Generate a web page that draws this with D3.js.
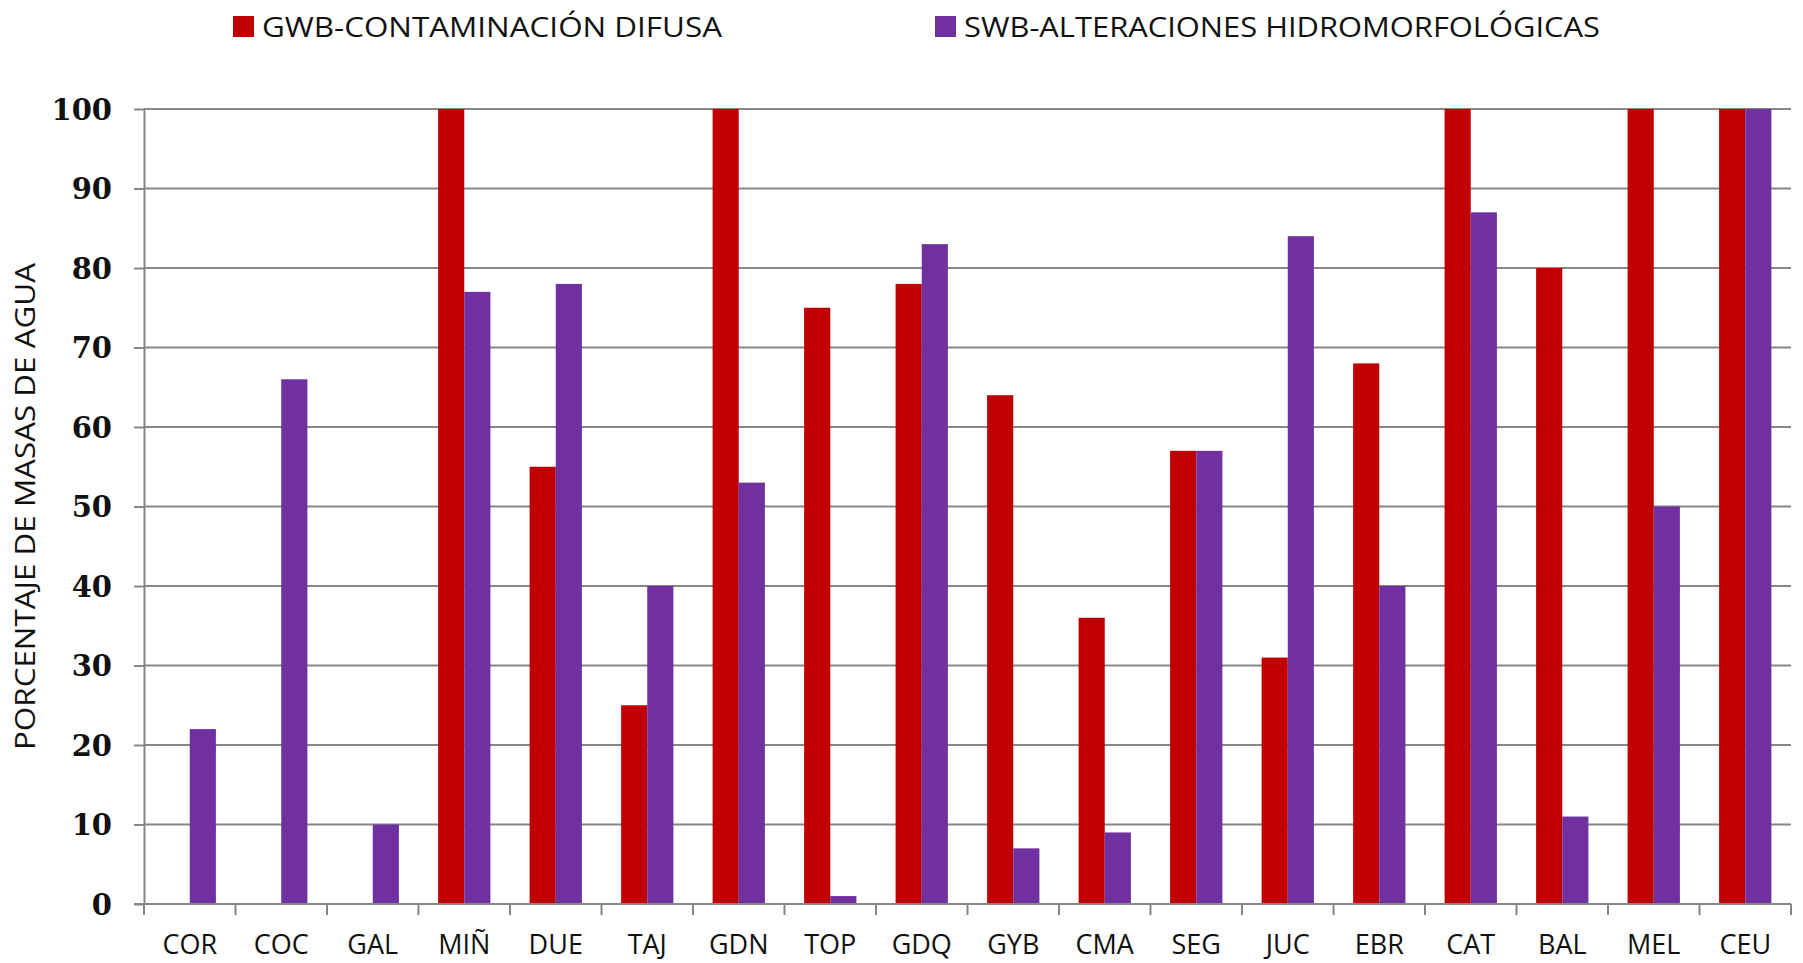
<!doctype html>
<html>
  <head>
    <meta charset="utf-8">
    <script src="https://cdnjs.cloudflare.com/ajax/libs/d3/7.8.5/d3.min.js"></script>
    <style>
      body { margin: 0; background: #fff; }
      line.grid { stroke: #878787; stroke-width: 2; }
      .axis path, .axis line { stroke: #878787; stroke-width: 2; }
      text.tick-y { font-family: "DejaVu Serif"; font-weight: bold; font-size: 29px; fill: #111; }
      text.label { font-family: "Open Sans"; font-size: 28px; fill: #111; }
      text.xlabel { font-family: "Open Sans"; font-size: 27px; fill: #111; }
    </style>
  </head>
  <body>
    <svg id="chart" width="1803" height="963"></svg>
    <script>
      var categories = ["COR", "COC", "GAL", "MIÑ", "DUE", "TAJ", "GDN", "TOP", "GDQ",
                        "GYB", "CMA", "SEG", "JUC", "EBR", "CAT", "BAL", "MEL", "CEU"];
      var gwbValues = [0, 0, 0, 100, 55, 25, 100, 75, 78, 64, 36, 57, 31, 68, 100, 80, 100, 100];
      var swbValues = [22, 66, 10, 77, 78, 40, 53, 1, 83, 7, 9, 57, 84, 40, 87, 11, 50, 100];
      var seriesNames = ["GWB-CONTAMINACIÓN DIFUSA", "SWB-ALTERACIONES HIDROMORFOLÓGICAS"];
      var yTicks = [0, 10, 20, 30, 40, 50, 60, 70, 80, 90, 100];
      var yTitle = "PORCENTAJE DE MASAS DE AGUA";

      var colors = ["#C00000", "#7030A0"];
      var margin = {top: 109, right: 12, bottom: 59, left: 144};
      var width = 1803 - margin.left - margin.right;
      var height = 963 - margin.top - margin.bottom;

      var svg = d3.select("#chart");
      var g = svg.append("g").attr("transform", "translate(" + margin.left + "," + margin.top + ")");

      var x = d3.scaleBand().domain(categories).range([0, width]);
      var y = d3.scaleLinear().domain([0, 100]).range([height, 0]);
      var barW = x.bandwidth() / 3.5;
      var offset = (x.bandwidth() - 2 * barW) / 2;

      // gridlines
      g.selectAll("line.grid")
        .data(yTicks.filter(d => d > 0))
        .enter().append("line")
          .attr("class", "grid")
          .attr("x1", 0).attr("x2", width)
          .attr("y1", d => y(d)).attr("y2", d => y(d));

      // bars
      var rows = categories.map((c, i) => ({cat: c, vals: [gwbValues[i], swbValues[i]]}));
      var groups = g.selectAll("g.cat")
        .data(rows)
        .enter().append("g")
          .attr("transform", d => "translate(" + (x(d.cat) + offset) + ",0)");
      groups.selectAll("rect")
        .data(d => d.vals)
        .enter().append("rect")
          .attr("x", (d, i) => i * barW)
          .attr("width", barW)
          .attr("y", d => y(d))
          .attr("height", d => height - y(d))
          .attr("fill", (d, i) => colors[i]);

      // y axis
      var yAxis = g.append("g").attr("class", "axis")
        .call(d3.axisLeft(y).tickValues(yTicks).tickSize(10).tickPadding(22).tickSizeOuter(0));
      yAxis.selectAll("text").attr("class", "tick-y").attr("dy", "0.36em");

      // x axis line + boundary ticks
      var xAxis = g.append("g").attr("class", "axis").attr("transform", "translate(0," + height + ")");
      xAxis.append("line").attr("x1", -10).attr("x2", width);
      xAxis.selectAll("line.bt")
        .data(categories.map(c => x(c)).concat([width]))
        .enter().append("line")
          .attr("x1", d => d).attr("x2", d => d)
          .attr("y1", 0).attr("y2", 11);

      xAxis.selectAll("text.xlabel")
        .data(categories)
        .enter().append("text")
          .attr("class", "xlabel")
          .attr("x", d => x(d) + x.bandwidth() / 2)
          .attr("y", 50)
          .attr("text-anchor", "middle")
          .text(d => d);

      // y title
      svg.append("text")
        .attr("class", "label")
        .attr("transform", "translate(35," + (margin.top + height / 2) + ") rotate(-90)")
        .attr("text-anchor", "middle")
        .attr("textLength", 487)
        .attr("lengthAdjust", "spacingAndGlyphs")
        .text(yTitle);

      // legend
      var legendX = [233, 935];
      var legendW = [460, 636];
      var legend = svg.selectAll("g.legend")
        .data(seriesNames)
        .enter().append("g")
          .attr("transform", (d, i) => "translate(" + legendX[i] + ",0)");
      legend.append("rect")
        .attr("x", 0).attr("y", 16).attr("width", 21).attr("height", 21)
        .attr("fill", (d, i) => colors[i]);
      legend.append("text")
        .attr("class", "label")
        .attr("x", 29).attr("y", 37)
        .attr("textLength", (d, i) => legendW[i])
        .attr("lengthAdjust", "spacingAndGlyphs")
        .text(d => d);
    </script>
  </body>
</html>
